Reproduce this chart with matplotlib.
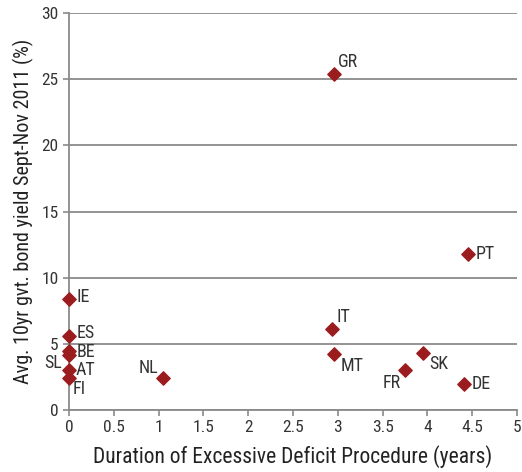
import matplotlib
matplotlib.use("Agg")
import matplotlib.pyplot as plt
from matplotlib import font_manager

names = {f.name for f in font_manager.fontManager.ttflist}
fam = [n for n in ["Liberation Sans Narrow", "Roboto Condensed", "Roboto", "DejaVu Sans"] if n in names]
plt.rcParams['font.family'] = fam

countries = ["GR", "PT", "IT", "MT", "FR", "SK", "DE", "NL", "IE", "ES", "BE", "SL", "AT", "FI"]
duration = [2.96, 4.45, 2.94, 2.96, 3.75, 3.95, 4.41, 1.05, 0.0, 0.0, 0.0, 0.0, 0.0, 0.0]
yields = [25.4, 11.8, 6.1, 4.25, 3.0, 4.3, 2.0, 2.4, 8.4, 5.6, 4.45, 4.15, 3.0, 2.4]
# label offsets in pixels (dx, dy) and alignment
offsets = {
    "GR": (4, 12, "left"), "PT": (8, 0, "left"), "IT": (4, 12, "left"),
    "MT": (6, -12, "left"), "FR": (-4, -13, "right"), "SK": (6, -11, "left"),
    "DE": (7, 0, "left"), "NL": (-5, 10, "right"), "IE": (8, 2, "left"),
    "ES": (8, 3, "left"), "BE": (8, -1, "left"), "SL": (-7, -8, "right"),
    "AT": (7, 0, "left"), "FI": (4, -11, "left"),
}

fig = plt.figure(figsize=(5.22, 4.72), dpi=100)
ax = fig.add_axes([69/522, 62/472, 448/522, 397/472])

gray = "#8a8a8a"
ax.set_xlim(0, 5)
ax.set_ylim(0, 30)
ax.set_xticks([0, 0.5, 1, 1.5, 2, 2.5, 3, 3.5, 4, 4.5, 5])
ax.set_xticklabels(["0", "0.5", "1", "1.5", "2", "2.5", "3", "3.5", "4", "4.5", "5"])
ax.set_yticks([0, 5, 10, 15, 20, 25, 30])
ax.yaxis.grid(True, color=gray, linewidth=1.3)
ax.set_axisbelow(True)
for s in ["top", "right"]:
    ax.spines[s].set_visible(False)
for s in ["left", "bottom"]:
    ax.spines[s].set_color(gray)
    ax.spines[s].set_linewidth(1.3)
ax.tick_params(colors=gray, labelcolor="#333333", labelsize=12.5, length=4, width=1.2)

ax.scatter(duration, yields, marker="D", s=46, color="#9b1c1f", zorder=3, clip_on=False)
for c, x, y in zip(countries, duration, yields):
    dx, dy, ha = offsets[c]
    ax.annotate(c, (x, y), xytext=(dx / 1.389, dy / 1.389), textcoords="offset points",
                ha=ha, va="center", fontsize=13, color="#333333")

ax.set_xlabel("Duration of Excessive Deficit Procedure (years)", fontsize=15.5, color="#222222", labelpad=7)
ax.set_ylabel("Avg. 10yr gvt. bond yield Sept-Nov 2011 (%)", fontsize=14.5, color="#222222", labelpad=5)

fig.savefig("out.png", dpi=100)
